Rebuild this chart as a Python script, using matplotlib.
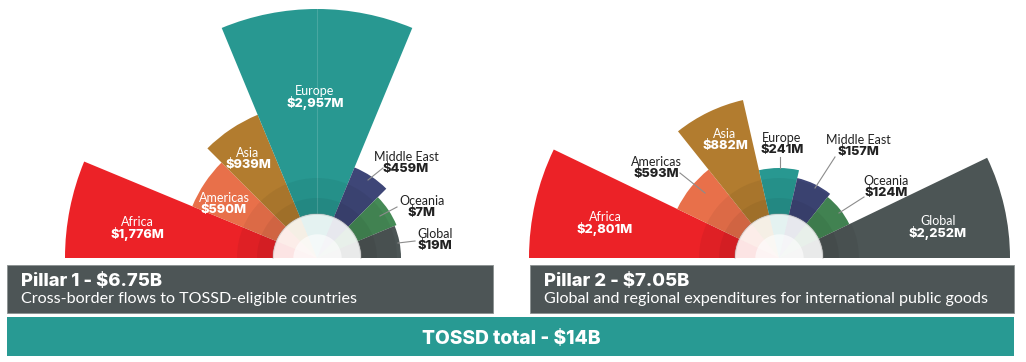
import numpy as np
import matplotlib
matplotlib.use("Agg")
import matplotlib.pyplot as plt
from matplotlib.patches import Rectangle

# data
regions = ["Africa", "Americas", "Asia", "Europe", "Middle East", "Oceania", "Global"]
p1_values = ["$1,776M", "$590M", "$939M", "$2,957M", "$459M", "$7M", "$19M"]
p2_values = ["$2,801M", "$593M", "$882M", "$241M", "$157M", "$124M", "$2,252M"]
# drawn wedge length (the infographic does not scale them to the values)
p1_len = [252, 135, 155, 249, 98, 86, 84]
p2_len = [250, 113, 162, 90, 82, 78, 231]
p1_slots = [1, 1, 1, 2, 1, 1, 1]   # Europe takes a double slot in pillar 1
p2_slots = [1, 1, 1, 1, 1, 1, 1]
pillar_titles = ["Pillar 1 - $6.75B", "Pillar 2 - $7.05B"]
pillar_subs = ["Cross-border flows to TOSSD-eligible countries",
               "Global and regional expenditures for international public goods"]
total_label = "TOSSD total - $14B"

colors = ["#EC2227", "#E8704A", "#B27C2F", "#289891", "#3E4677", "#458A56", "#4C5555"]
GREY = "#4D5556"
TEAL = "#289A93"
FONT = "Lato"
BOLD = "Inter"

W, H = 1026, 362
fig = plt.figure(figsize=(W / 100, H / 100), dpi=100)
fig.patch.set_facecolor("white")

R = 260      # polar units == pixels
HOLE = 44


def rose(cx, cy, lengths, slots):
    # cx, cy in pixels from top-left
    ax = fig.add_axes([(cx - R) / W, (H - cy - R) / H, 2 * R / W, 2 * R / H],
                      projection="polar")
    ax.set_ylim(0, R)
    ax.axis("off")
    step = np.pi / sum(slots)
    edges = np.pi - np.cumsum([0] + slots) * step
    for i, ln in enumerate(lengths):
        t1, t0 = edges[i], edges[i + 1]
        mid, wid = (t0 + t1) / 2, t1 - t0
        ax.bar(mid, ln - HOLE, width=wid, bottom=HOLE, color=colors[i],
               linewidth=0, zorder=2)
        # darker inner rings
        for rr in (80, 60):
            top = min(ln, rr)
            ax.bar(mid, top - HOLE, width=wid, bottom=HOLE, color="black",
                   alpha=0.05, linewidth=0, zorder=3)
        # pale centre disc
        ax.bar(mid, HOLE, width=wid, bottom=0, color="white", linewidth=0, zorder=4)
        ax.bar(mid, HOLE, width=wid, bottom=0, color=colors[i], alpha=0.12,
               linewidth=0, zorder=5)
        if slots[i] > 1:
            ax.plot([mid, mid], [HOLE, ln], color="white", alpha=0.15, lw=0.8, zorder=3)
    th = np.linspace(0, np.pi, 200)
    ax.fill_between(th, 0, HOLE * 0.55, color="white", alpha=0.6, zorder=6, linewidth=0)
    ax.plot(th, np.full_like(th, HOLE), color="#9a9a9a", alpha=0.3, lw=1.2, zorder=6)
    return ax


rose(317, 258, p1_len, p1_slots)
rose(779, 258, p2_len, p2_slots)

# overlay axes in pixel coordinates for banners and labels
ov = fig.add_axes([0, 0, 1, 1])
ov.set_xlim(0, W)
ov.set_ylim(H, 0)
ov.axis("off")
ov.set_zorder(5)

# banners
for x0, x1, title, sub in [(7, 493, pillar_titles[0], pillar_subs[0]),
                           (530, 1014, pillar_titles[1], pillar_subs[1])]:
    ov.add_patch(Rectangle((x0, 265), x1 - x0, 48, facecolor=GREY,
                           edgecolor="#8a9090", lw=0.6))
    ov.text(x0 + 14, 282, title, color="white", fontsize=13.3, fontweight="heavy",
            family=BOLD, va="center", ha="left")
    ov.text(x0 + 14, 299.5, sub, color="white", fontsize=11.6, fontweight="normal",
            family=FONT, va="center", ha="left")
ov.add_patch(Rectangle((7, 317), 1007, 39, facecolor=TEAL, edgecolor="none"))
ov.text(511, 339, total_label, color="white", fontsize=13.8, fontweight="heavy",
        family=BOLD, va="center", ha="center")

# wedge labels: (x, y, text colour, leader line)
p1_pos = [(137, 222, "white", None), (224, 198, "white", None),
          (248, 153, "white", None), (315, 91, "white", None),
          (406, 157, "#222222", [(383, 168), (368, 180)]),
          (422, 201, "#222222", [(397, 207), (380, 216)]),
          (435, 234, "#222222", [(415, 241), (398, 243)])]
p2_pos = [(605, 217, "white", None),
          (656, 162, "#222222", [(680, 173), (705, 193)]),
          (725, 134, "white", None),
          (782, 138, "#222222", [(780, 157), (780, 168)]),
          (858, 140, "#222222", [(835, 157), (815, 188)]),
          (886, 181, "#222222", [(864, 197), (839, 213)]),
          (938, 221, "white", None)]

for vals, pos in [(p1_values, p1_pos), (p2_values, p2_pos)]:
    for name, val, (x, y, c, lead) in zip(regions, vals, pos):
        ov.text(x, y, name, color=c, fontsize=9, family=FONT, ha="center", va="center")
        ov.text(x, y + 12, val, color=c, fontsize=9.2, fontweight="heavy",
                family=BOLD, ha="center", va="center")
        if lead:
            ov.plot([lead[0][0], lead[1][0]], [lead[0][1], lead[1][1]],
                    color="#8c8c8c", lw=0.8)

fig.savefig("out.png", dpi=100)
